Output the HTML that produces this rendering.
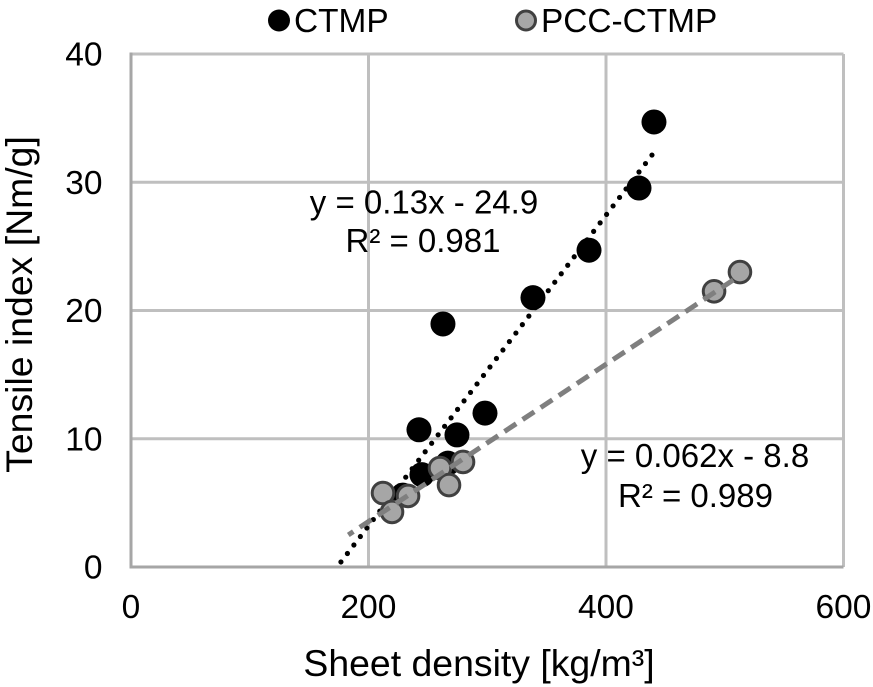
<!DOCTYPE html>
<html>
<head>
<meta charset="utf-8">
<style>
html,body{margin:0;padding:0;background:#fff;}
svg{display:block;}
text{font-family:"Liberation Sans",Arial,sans-serif;fill:#000;}
</style>
</head>
<body>
<svg id="chart" width="873" height="687" viewBox="0 0 873 687" xmlns="http://www.w3.org/2000/svg"></svg>
<script>
const xTicks = [0, 200, 400, 600];
const yTicks = [0, 10, 20, 30, 40];
const ctmpX = [440.4, 427.8, 385.7, 338.5, 262.7, 298.1, 242.5, 274.5, 266.9, 245, 229];
const ctmpY = [34.7, 29.55, 24.7, 21.0, 18.95, 12.0, 10.7, 10.3, 8.1, 7.2, 5.6];
const pccX = [212.2, 219.8, 233.3, 260.2, 267.8, 279.6, 491, 512.8];
const pccY = [5.77, 4.29, 5.54, 7.72, 6.39, 8.19, 21.5, 23.0];
const ctmpTrendX = [438.7, 176.6];
const ctmpTrendY = [32.12, 0.37];
const pccTrendX = [507.2, 183];
const pccTrendY = [22.38, 2.5];

const svg = document.getElementById('chart');
const NS = 'http://www.w3.org/2000/svg';
const sx = v => 131 + v * (712.5 / 600);
const sy = v => 567 - v * (513 / 40);

function make(tag, attrs, parent) {
  const el = document.createElementNS(NS, tag);
  for (const k in attrs) el.setAttribute(k, attrs[k]);
  (parent || svg).appendChild(el);
  return el;
}

xTicks.forEach(t => {
  if (t === 0) return;
  const el = make('line', {x1: sx(t), x2: sx(t), y1: sy(40), y2: sy(0), stroke: '#bfbfbf', 'stroke-width': 3});
  
  
});
yTicks.forEach(t => {
  if (t === 0) return;
  const el = make('line', {x1: sx(0), x2: sx(600), y1: sy(t), y2: sy(t), stroke: '#bfbfbf', 'stroke-width': 3});
  
  
});

const yAxis = make('line', {x1: sx(0), x2: sx(0), y1: sy(40) - 1.5, y2: sy(0) + 1.5, stroke: '#a6a6a6', 'stroke-width': 3});


const xAxis = make('line', {x1: sx(0), x2: sx(600), y1: sy(0), y2: sy(0), stroke: '#a6a6a6', 'stroke-width': 3});



xTicks.forEach(t => {
  const el = make('text', {x: sx(t), y: 618, 'text-anchor': 'middle', 'font-size': 33.5});
  el.textContent = t;
  
  
});
yTicks.forEach(t => {
  const el = make('text', {x: 102.5, y: sy(t) + 11.5, 'text-anchor': 'end', 'font-size': 33.5});
  el.textContent = t;
  
  
});

ctmpX.forEach((v, i) => {
  const el = make('circle', {cx: sx(v), cy: sy(ctmpY[i]), r: 12.5, fill: '#000'});
  
  
});
const ctmpLine = make('line', {x1: sx(ctmpTrendX[0]), y1: sy(ctmpTrendY[0]), x2: sx(ctmpTrendX[1]), y2: sy(ctmpTrendY[1]), stroke: '#000', 'stroke-width': 5.2, 'stroke-linecap': 'round', 'stroke-dasharray': '0 10.67'});



pccX.forEach((v, i) => {
  const el = make('circle', {cx: sx(v), cy: sy(pccY[i]), r: 10.8, fill: '#a6a6a6', stroke: '#404040', 'stroke-width': 3});
  
  
});
const pccLine = make('line', {x1: sx(pccTrendX[0]), y1: sy(pccTrendY[0]), x2: sx(pccTrendX[1]), y2: sy(pccTrendY[1]), stroke: '#7f7f7f', 'stroke-width': 5, 'stroke-dasharray': '14 7.7'});



function label(txt, x, y, anchor, size, name) {
  const el = make('text', {x: x, y: y, 'text-anchor': anchor, 'font-size': size});
  el.textContent = txt;
  
  
  return el;
}
label('y = 0.13x - 24.9', 424, 213.5, 'middle', 33, 'ctmp-equation');
label('R² = 0.981', 423, 252, 'middle', 33, 'ctmp-r-squared');
label('y = 0.062x - 8.8', 695, 467, 'middle', 33, 'pcc-ctmp-equation');
label('R² = 0.989', 695.5, 507, 'middle', 33, 'pcc-ctmp-r-squared');
label('Sheet density [kg/m³]', 479, 676, 'middle', 37.4, 'x-axis-title');
const yt = label('Tensile index [Nm/g]', 0, 0, 'middle', 37.4, 'y-axis-title');
yt.setAttribute('transform', 'translate(32,304.5) rotate(-90)');

const lg1 = make('circle', {cx: 279, cy: 20.5, r: 11, fill: '#000'});


label('CTMP', 294, 32, 'start', 33.4, 'legend-label-ctmp');
const lg2 = make('circle', {cx: 526, cy: 20.5, r: 9.5, fill: '#a6a6a6', stroke: '#404040', 'stroke-width': 3});


label('PCC-CTMP', 541, 32, 'start', 33.4, 'legend-label-pcc-ctmp');
</script>
</body>
</html>
